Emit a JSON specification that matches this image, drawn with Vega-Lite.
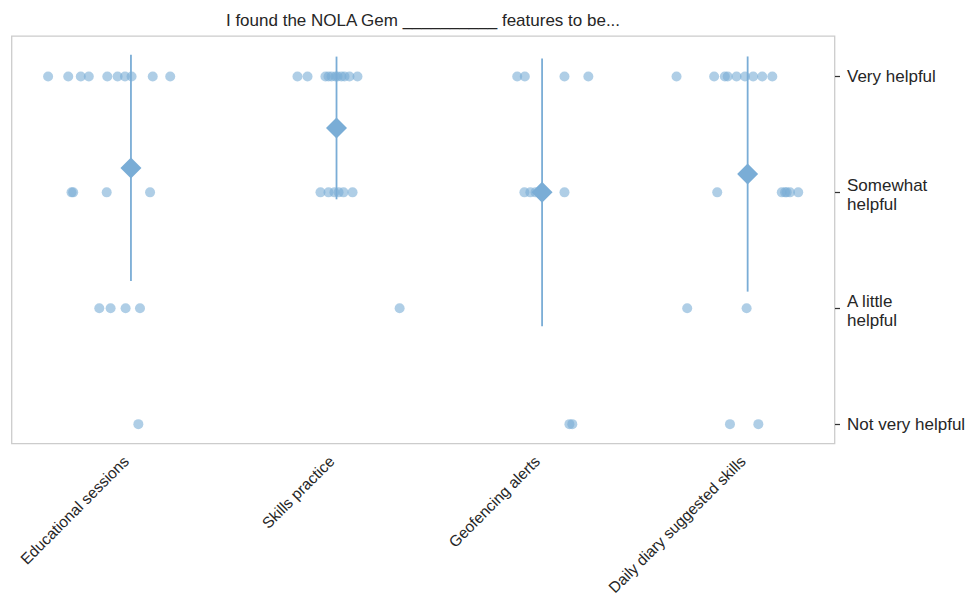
{
  "$schema": "https://vega.github.io/schema/vega-lite/v6.json",
  "width": 823,
  "height": 407.5,
  "autosize": {"type": "none"},
  "padding": {"left": 11.5, "top": 36, "right": 133.5, "bottom": 155.5},
  "title": {
    "text": "I found the NOLA Gem __________ features to be...",
    "fontSize": 17,
    "font": "Liberation Sans",
    "fontWeight": "normal",
    "color": "#262626",
    "anchor": "middle",
    "offset": 6
  },
  "data": {
    "values": [
      {"feature": "Educational sessions", "rating": 4, "jitter": -0.403},
      {"feature": "Educational sessions", "rating": 4, "jitter": -0.305},
      {"feature": "Educational sessions", "rating": 4, "jitter": -0.244},
      {"feature": "Educational sessions", "rating": 4, "jitter": -0.205},
      {"feature": "Educational sessions", "rating": 4, "jitter": -0.115},
      {"feature": "Educational sessions", "rating": 4, "jitter": -0.065},
      {"feature": "Educational sessions", "rating": 4, "jitter": -0.029},
      {"feature": "Educational sessions", "rating": 4, "jitter": 0.003},
      {"feature": "Educational sessions", "rating": 4, "jitter": 0.106},
      {"feature": "Educational sessions", "rating": 4, "jitter": 0.191},
      {"feature": "Educational sessions", "rating": 3, "jitter": -0.289},
      {"feature": "Educational sessions", "rating": 3, "jitter": -0.281},
      {"feature": "Educational sessions", "rating": 3, "jitter": -0.118},
      {"feature": "Educational sessions", "rating": 3, "jitter": 0.093},
      {"feature": "Educational sessions", "rating": 2, "jitter": -0.154},
      {"feature": "Educational sessions", "rating": 2, "jitter": -0.099},
      {"feature": "Educational sessions", "rating": 2, "jitter": -0.026},
      {"feature": "Educational sessions", "rating": 2, "jitter": 0.044},
      {"feature": "Educational sessions", "rating": 1, "jitter": 0.036},
      {"feature": "Skills practice", "rating": 4, "jitter": -0.190},
      {"feature": "Skills practice", "rating": 4, "jitter": -0.141},
      {"feature": "Skills practice", "rating": 4, "jitter": -0.054},
      {"feature": "Skills practice", "rating": 4, "jitter": -0.039},
      {"feature": "Skills practice", "rating": 4, "jitter": -0.024},
      {"feature": "Skills practice", "rating": 4, "jitter": -0.005},
      {"feature": "Skills practice", "rating": 4, "jitter": 0.005},
      {"feature": "Skills practice", "rating": 4, "jitter": 0.024},
      {"feature": "Skills practice", "rating": 4, "jitter": 0.039},
      {"feature": "Skills practice", "rating": 4, "jitter": 0.063},
      {"feature": "Skills practice", "rating": 4, "jitter": 0.102},
      {"feature": "Skills practice", "rating": 3, "jitter": -0.078},
      {"feature": "Skills practice", "rating": 3, "jitter": -0.039},
      {"feature": "Skills practice", "rating": 3, "jitter": -0.010},
      {"feature": "Skills practice", "rating": 3, "jitter": 0.010},
      {"feature": "Skills practice", "rating": 3, "jitter": 0.034},
      {"feature": "Skills practice", "rating": 3, "jitter": 0.078},
      {"feature": "Skills practice", "rating": 2, "jitter": 0.307},
      {"feature": "Geofencing alerts", "rating": 4, "jitter": -0.121},
      {"feature": "Geofencing alerts", "rating": 4, "jitter": -0.084},
      {"feature": "Geofencing alerts", "rating": 4, "jitter": 0.109},
      {"feature": "Geofencing alerts", "rating": 4, "jitter": 0.225},
      {"feature": "Geofencing alerts", "rating": 3, "jitter": -0.086},
      {"feature": "Geofencing alerts", "rating": 3, "jitter": -0.057},
      {"feature": "Geofencing alerts", "rating": 3, "jitter": -0.032},
      {"feature": "Geofencing alerts", "rating": 3, "jitter": 0.109},
      {"feature": "Geofencing alerts", "rating": 1, "jitter": 0.133},
      {"feature": "Geofencing alerts", "rating": 1, "jitter": 0.147},
      {"feature": "Daily diary suggested skills", "rating": 4, "jitter": -0.346},
      {"feature": "Daily diary suggested skills", "rating": 4, "jitter": -0.163},
      {"feature": "Daily diary suggested skills", "rating": 4, "jitter": -0.111},
      {"feature": "Daily diary suggested skills", "rating": 4, "jitter": -0.097},
      {"feature": "Daily diary suggested skills", "rating": 4, "jitter": -0.054},
      {"feature": "Daily diary suggested skills", "rating": 4, "jitter": -0.013},
      {"feature": "Daily diary suggested skills", "rating": 4, "jitter": 0.027},
      {"feature": "Daily diary suggested skills", "rating": 4, "jitter": 0.071},
      {"feature": "Daily diary suggested skills", "rating": 4, "jitter": 0.120},
      {"feature": "Daily diary suggested skills", "rating": 3, "jitter": -0.148},
      {"feature": "Daily diary suggested skills", "rating": 3, "jitter": 0.166},
      {"feature": "Daily diary suggested skills", "rating": 3, "jitter": 0.182},
      {"feature": "Daily diary suggested skills", "rating": 3, "jitter": 0.190},
      {"feature": "Daily diary suggested skills", "rating": 3, "jitter": 0.206},
      {"feature": "Daily diary suggested skills", "rating": 3, "jitter": 0.246},
      {"feature": "Daily diary suggested skills", "rating": 2, "jitter": -0.294},
      {"feature": "Daily diary suggested skills", "rating": 2, "jitter": -0.005},
      {"feature": "Daily diary suggested skills", "rating": 1, "jitter": -0.086},
      {"feature": "Daily diary suggested skills", "rating": 1, "jitter": 0.052}
    ]
  },
  "encoding": {
    "x": {
      "field": "feature",
      "type": "nominal",
      "scale": {
        "type": "point",
        "domain": ["Educational sessions", "Skills practice", "Geofencing alerts", "Daily diary suggested skills"],
        "padding": 0.5018,
        "align": 0.579
      },
      "axis": {
        "title": null,
        "labelAngle": -45,
        "labelAlign": "right",
        "labelBaseline": "top",
        "ticks": false,
        "domain": false,
        "grid": false,
        "labelPadding": 10,
        "labelOffset": -10,
        "labelFontSize": 15.5,
        "labelFont": "Liberation Sans",
        "labelColor": "#262626",
        "labelOverlap": false,
        "labelLimit": 0
      }
    }
  },
  "layer": [
    {
      "mark": {"type": "circle", "size": 100, "color": "#7aadd6", "opacity": 0.6},
      "encoding": {
        "xOffset": {
          "field": "jitter",
          "type": "quantitative",
          "scale": {"domain": [-0.5, 0.5], "range": [-102.785, 102.785]}
        },
        "y": {
          "field": "rating",
          "type": "quantitative",
          "scale": {"domain": [0.833, 4.349], "nice": false, "zero": false},
          "axis": {
            "orient": "right",
            "title": null,
            "values": [1, 2, 3, 4],
            "labelExpr": "datum.value == 4 ? 'Very helpful' : datum.value == 3 ? ['Somewhat', 'helpful'] : datum.value == 2 ? ['A little', 'helpful'] : 'Not very helpful'",
            "domain": false,
            "grid": false,
            "ticks": true,
            "tickSize": 5,
            "tickWidth": 1.25,
            "tickColor": "#333333",
            "labelFontSize": 17,
            "labelFont": "Liberation Sans",
            "labelColor": "#262626",
            "labelPadding": 7,
            "labelLineHeight": 19.5,
            "labelAlign": "left",
            "labelBaseline": "middle",
            "labelOffset": {"expr": "datum.value == 2 || datum.value == 3 ? -7 : 0"},
            "labelLimit": 0
          }
        }
      }
    },
    {
      "mark": {"type": "errorbar", "extent": "stdev", "color": "#7aadd6", "rule": {"strokeWidth": 1.8}},
      "encoding": {
        "y": {"field": "rating", "type": "quantitative", "title": null}
      }
    },
    {
      "mark": {"type": "point", "shape": "diamond", "filled": true, "size": 440, "color": "#7aadd6", "opacity": 1},
      "encoding": {
        "y": {"aggregate": "mean", "field": "rating", "type": "quantitative", "title": null}
      }
    }
  ],
  "config": {
    "font": "Liberation Sans",
    "view": {"stroke": "#cccccc", "strokeWidth": 1.3}
  }
}
